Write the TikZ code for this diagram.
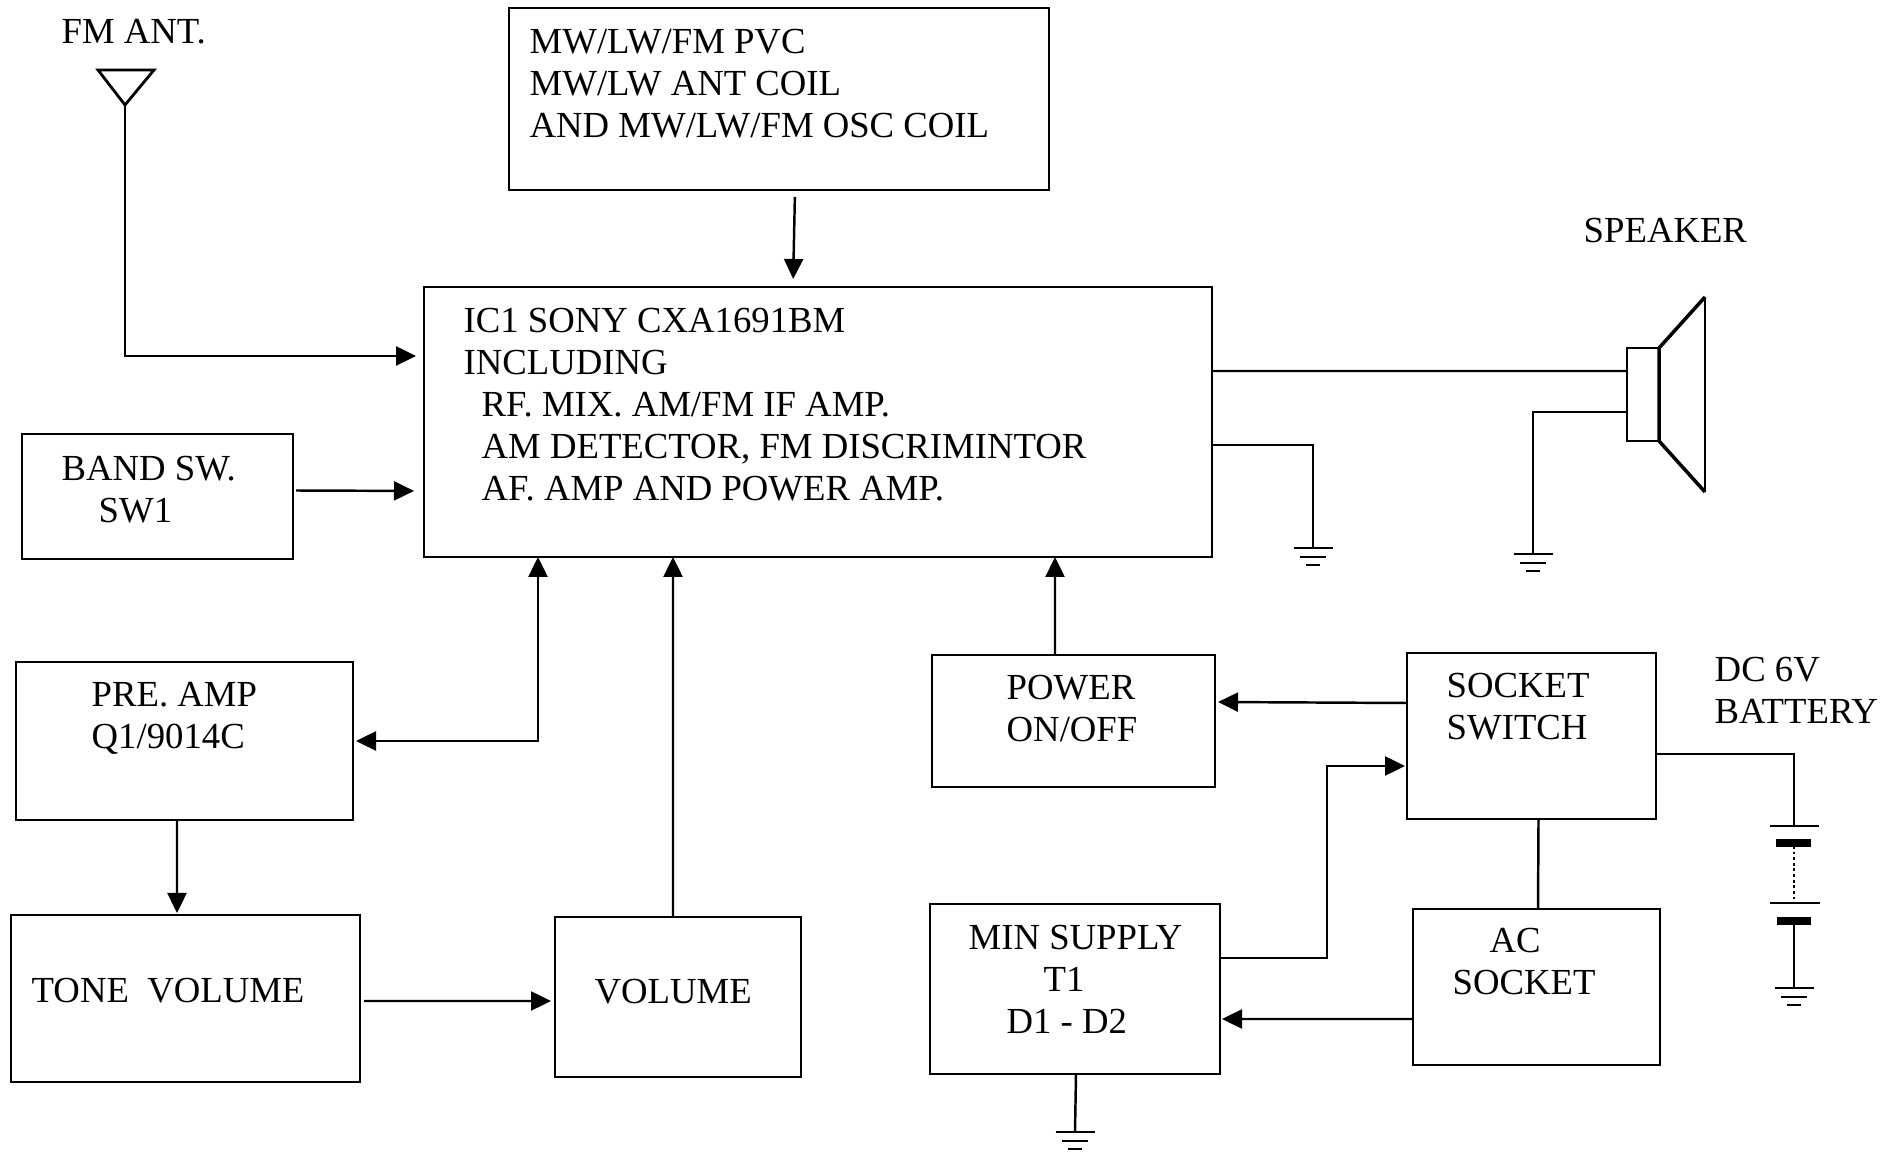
\documentclass[tikz,border=0pt]{standalone}
\usepackage{fontspec}
\setmainfont{Liberation Serif}
\usetikzlibrary{arrows.meta,positioning,calc}
\tikzset{
  blockbox/.style={draw,line width=0.65pt,anchor=north west,inner sep=0pt,outer sep=0pt},
  blocktext/.style={anchor=north west,inner sep=0pt,align=left,font=\fontsize{10.45}{11.96}\selectfont},
  wire/.style={line width=0.7pt},
  sig/.style={wire,-{Triangle[length=0.2cm,width=0.19cm]}},
  gnd/.pic={
    \draw[wire] (-0.195,0) -- (0.195,0);
    \draw[wire] (-0.13,-0.09) -- (0.13,-0.09);
    \draw[wire] (-0.07,-0.17) -- (0.07,-0.17);
  }
}

\begin{document}
\begin{tikzpicture}[x=1cm,y=1cm]
  \useasboundingbox (0,0) rectangle (19,11.52);
  % blocks
  \node[blockbox,minimum width=5.40cm,minimum height=1.82cm] (pvcbox) at (5.09,11.44) {};
  \node[blockbox,minimum width=7.88cm,minimum height=2.70cm] (icbox) at (4.24,8.65) {};
  \node[blockbox,minimum width=2.71cm,minimum height=1.25cm] (bandbox) at (0.22,7.18) {};
  \node[blockbox,minimum width=3.37cm,minimum height=1.58cm] (prebox) at (0.16,4.90) {};
  \node[blockbox,minimum width=3.49cm,minimum height=1.67cm] (tonebox) at (0.11,2.37) {};
  \node[blockbox,minimum width=2.46cm,minimum height=1.60cm] (volbox) at (5.55,2.35) {};
  \node[blockbox,minimum width=2.83cm,minimum height=1.32cm] (powerbox) at (9.32,4.97) {};
  \node[blockbox,minimum width=2.49cm,minimum height=1.66cm] (socketbox) at (14.07,4.99) {};
  \node[blockbox,minimum width=2.47cm,minimum height=1.56cm] (acbox) at (14.13,2.43) {};
  \node[blockbox,minimum width=2.90cm,minimum height=1.70cm] (minbox) at (9.30,2.48) {};
  \node[blockbox,minimum width=0.32cm,minimum height=0.93cm] (spkcoil) at (16.27,8.04) {};
  % texts
  \node[blocktext] (anttext) at (0.61,11.33) {FM ANT.};
  \node[blocktext] (pvctext) at (5.29,11.24) {MW/LW/FM PVC\\MW/LW ANT COIL\\AND MW/LW/FM OSC COIL};
  \node[blocktext] (ictext) at (4.63,8.45) {IC1 SONY CXA1691BM\\INCLUDING\\\hspace*{0.18cm}RF. MIX. AM/FM IF AMP.\\\hspace*{0.18cm}AM DETECTOR, FM DISCRIMINTOR\\\hspace*{0.18cm}AF. AMP AND POWER AMP.};
  \node[blocktext] (bandtext) at (0.61,6.97) {BAND SW.\\\hspace*{0.37cm}SW1};
  \node[blocktext] (pretext) at (0.91,4.70) {PRE. AMP\\Q1/9014C};
  \node[blocktext] (tonetext) at (0.31,1.745) {TONE\ \ VOLUME};
  \node[blocktext] (voltext) at (5.94,1.735) {VOLUME};
  \node[blocktext] (powertext) at (10.06,4.78) {POWER\\ON/OFF};
  \node[blocktext] (sockettext) at (14.46,4.80) {SOCKET\\SWITCH};
  \node[blocktext] (battext) at (17.14,4.96) {DC 6V\\BATTERY};
  \node[blocktext] (actext) at (14.52,2.25) {\hspace*{0.37cm}AC\\SOCKET};
  \node[blocktext] (mintext) at (9.68,2.28) {MIN SUPPLY\\\hspace*{0.75cm}T1\\\hspace*{0.38cm}D1 - D2};
  \node[blocktext] (spktext) at (15.83,9.345) {SPEAKER};
  % antenna
  \coordinate (antfoot) at (1.25,10.47);
  \draw[line width=0.8pt] (0.98,10.82) -- (1.54,10.82) -- (antfoot) -- cycle;
  \draw[sig,shorten >=0.08cm] (antfoot) |- ([yshift=0.66cm]icbox.west);
  % connectors to the IC
  \draw[sig,shorten <=0.07cm,shorten >=0.08cm] ([xshift=0.16cm]pvcbox.south) -- ([xshift=-0.25cm]icbox.north);
  \draw[sig,shorten <=0.03cm,shorten >=0.10cm] ([yshift=0.06cm]bandbox.east) -- ([yshift=-0.69cm]icbox.west);
  \draw[wire,{Triangle[length=0.2cm,width=0.19cm]}-{Triangle[length=0.2cm,width=0.19cm]},shorten >=0.03cm] ([xshift=-2.80cm]icbox.south) |- (prebox.east);
  \draw[sig,shorten >=0.02cm] ([xshift=-0.075cm]prebox.south) -- ([xshift=-0.085cm]tonebox.north);
  \draw[sig,shorten <=0.04cm,shorten >=0.04cm] ([yshift=-0.025cm]tonebox.east) -- ([yshift=-0.04cm]volbox.west);
  \draw[sig] ([xshift=-0.05cm]volbox.north) -- ([xshift=-1.45cm]icbox.south);
  \draw[sig] ([xshift=-0.185cm]powerbox.north) -- ([xshift=2.37cm]icbox.south);
  % power side
  \draw[sig,shorten >=0.03cm] ([yshift=0.33cm]socketbox.west) -- ([yshift=0.19cm]powerbox.east);
  \draw[sig,shorten >=0.02cm] ([yshift=0.31cm]minbox.east) -- ++(1.07,0) |- ([yshift=-0.30cm]socketbox.west);
  \draw[wire] ([xshift=0.07cm]socketbox.south) -- ([xshift=0.015cm]acbox.north);
  \draw[sig,shorten >=0.02cm] ([yshift=-0.32cm]acbox.west) -- ([yshift=-0.30cm]minbox.east);
  % grounds
  \coordinate (mingnd) at (10.75,0.20);
  \draw[wire] ([xshift=0.01cm]minbox.south) -- (mingnd);
  \pic at (mingnd) {gnd};
  \coordinate (icgnd) at (13.13,6.04);
  \draw[wire] ([yshift=-0.23cm]icbox.east) -| (icgnd);
  \pic at (icgnd) {gnd};
  % speaker
  \coordinate (spkgnd) at (15.33,5.98);
  \draw[wire] ([yshift=0.51cm]icbox.east) -- ([yshift=0.235cm]spkcoil.west);
  \draw[wire] ([yshift=-0.175cm]spkcoil.west) -| (spkgnd);
  \pic at (spkgnd) {gnd};
  \draw[line width=1pt] (17.05,8.55) -- (spkcoil.north east) -- (spkcoil.south east) -- (17.05,6.60);
  \draw[wire] (17.05,8.55) -- (17.05,6.60);
  % battery
  \coordinate (battop) at (17.94,3.26);
  \coordinate (batgnd) at (17.94,1.64);
  \draw[wire] ([yshift=-0.18cm]socketbox.east) -| (battop);
  \draw[wire] (17.70,3.26) -- (18.19,3.26);
  \draw[line width=2pt] (17.76,3.09) -- (18.11,3.09);
  \draw[line width=0.8pt,dash pattern=on 0.8pt off 0.8pt] (17.94,3.06) -- (17.94,2.49);
  \draw[wire] (17.70,2.49) -- (18.20,2.49);
  \draw[line width=2pt] (17.77,2.31) -- (18.11,2.31);
  \draw[wire] (17.94,2.31) -- (batgnd);
  \pic at (batgnd) {gnd};
\end{tikzpicture}
\end{document}
